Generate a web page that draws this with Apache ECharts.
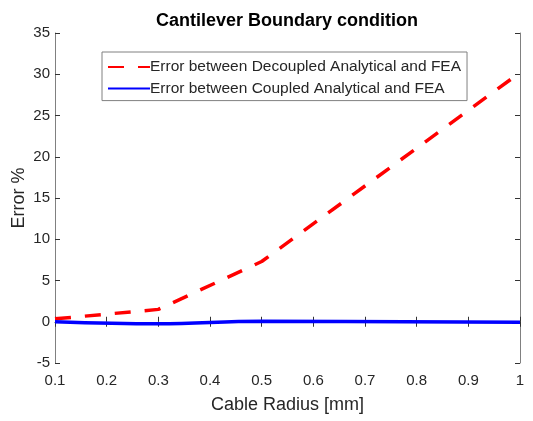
<!DOCTYPE html>
<html>
<head>
<meta charset="utf-8">
<script src="https://cdn.jsdelivr.net/npm/echarts@6/dist/echarts.min.js"></script>
<style>
  html, body { margin: 0; padding: 0; background: #fff; }
  #chart { width: 533px; height: 421px; }
</style>
</head>
<body>
<div id="chart"></div>
<script>
// cable radius [mm]
var radius = [0.1, 0.3, 0.5, 1.0];
// error % values
var decoupledErr = [0.35, 1.5, 7.3, 30.2];
var coupledErr = [0.0, -0.25, 0.05, -0.05];

var xTicks = [0.1, 0.2, 0.3, 0.4, 0.5, 0.6, 0.7, 0.8, 0.9, 1];
var yTicks = [-5, 0, 5, 10, 15, 20, 25, 30, 35];

var FONT = 'Liberation Sans, Arial, sans-serif',
    AXIS_GRAY = '#808080',
    TEXT = '#262626';

function pairs(xs, ys) {
    var out = [];
    for (var i = 0; i < xs.length; i++) {
        out.push([xs[i], ys[i]]);
    }
    return out;
}

var chart = echarts.init(document.getElementById('chart'));

var baseX = {
    type: 'value',
    min: xTicks[0],
    max: xTicks[xTicks.length - 1],
    interval: 0.1,
    axisLine: { show: true, lineStyle: { color: AXIS_GRAY, width: 1 } },
    axisTick: { show: true, inside: true, length: 5, lineStyle: { color: '#333' } },
    splitLine: { show: false }
};
var baseY = {
    type: 'value',
    min: yTicks[0],
    max: yTicks[yTicks.length - 1],
    interval: 5,
    axisLine: { show: true, lineStyle: { color: AXIS_GRAY, width: 1 } },
    axisTick: { show: true, inside: true, length: 5, lineStyle: { color: '#333' } },
    splitLine: { show: false }
};

var option = {
    animation: false,
    backgroundColor: '#fff',
    title: {
        text: 'Cantilever Boundary condition',
        left: 282,
        textAlign: 'center',
        top: 7,
        textStyle: { fontFamily: FONT, fontSize: 18, fontWeight: 'bold', color: '#000' }
    },
    grid: { left: 55, right: 13, top: 33, bottom: 58, outerBoundsMode: 'none' },
    legend: {
        left: 102,
        top: 52,
        orient: 'vertical',
        itemWidth: 42,
        itemHeight: 15,
        itemGap: 5.6,
        padding: [7, 6, 4, 5],
        borderColor: '#808080',
        borderWidth: 1,
        backgroundColor: '#fff',
        itemStyle: { opacity: 0 },
        textStyle: { fontFamily: FONT, fontSize: 15.5, color: TEXT, padding: [0, 0, 0, -5] },
        data: ['Error between Decoupled Analytical and FEA', 'Error between Coupled Analytical and FEA']
    },
    xAxis: [
        echarts.util.merge({
            position: 'bottom',
            name: 'Cable Radius [mm]',
            nameLocation: 'middle',
            nameGap: 33,
            nameMoveOverlap: false,
            nameTextStyle: { fontFamily: FONT, fontSize: 18, color: TEXT },
            axisLabel: {
                fontFamily: FONT, fontSize: 15, color: TEXT, margin: 10,
                formatter: function(v) { return String(Math.round(v * 10) / 10); }
            }
        }, baseX, true),
        echarts.util.merge({ position: 'top', axisLabel: { show: false } }, baseX, true)
    ],
    yAxis: [
        echarts.util.merge({
            position: 'left',
            name: 'Error %',
            nameLocation: 'middle',
            nameGap: 27,
            nameMoveOverlap: false,
            nameTextStyle: { fontFamily: FONT, fontSize: 18, color: TEXT },
            axisLabel: { fontFamily: FONT, fontSize: 15, color: TEXT, margin: 5 }
        }, baseY, true),
        echarts.util.merge({ position: 'right', axisLabel: { show: false } }, baseY, true)
    ],
    series: [
        {
            name: 'Error between Decoupled Analytical and FEA',
            type: 'line',
            showSymbol: false,
            symbol: 'none',
            color: '#ff0000',
            lineStyle: { color: '#ff0000', width: 3.5, type: [16, 14] },
            data: pairs(radius, decoupledErr),
            z: 3
        },
        {
            name: 'Error between Coupled Analytical and FEA',
            type: 'line',
            showSymbol: false,
            symbol: 'none',
            smooth: 0.4,
            color: '#0000ff',
            lineStyle: { color: '#0000ff', width: 3.5 },
            data: pairs(radius, coupledErr),
            z: 4
        }
    ]
};

chart.setOption(option);
</script>
</body>
</html>
